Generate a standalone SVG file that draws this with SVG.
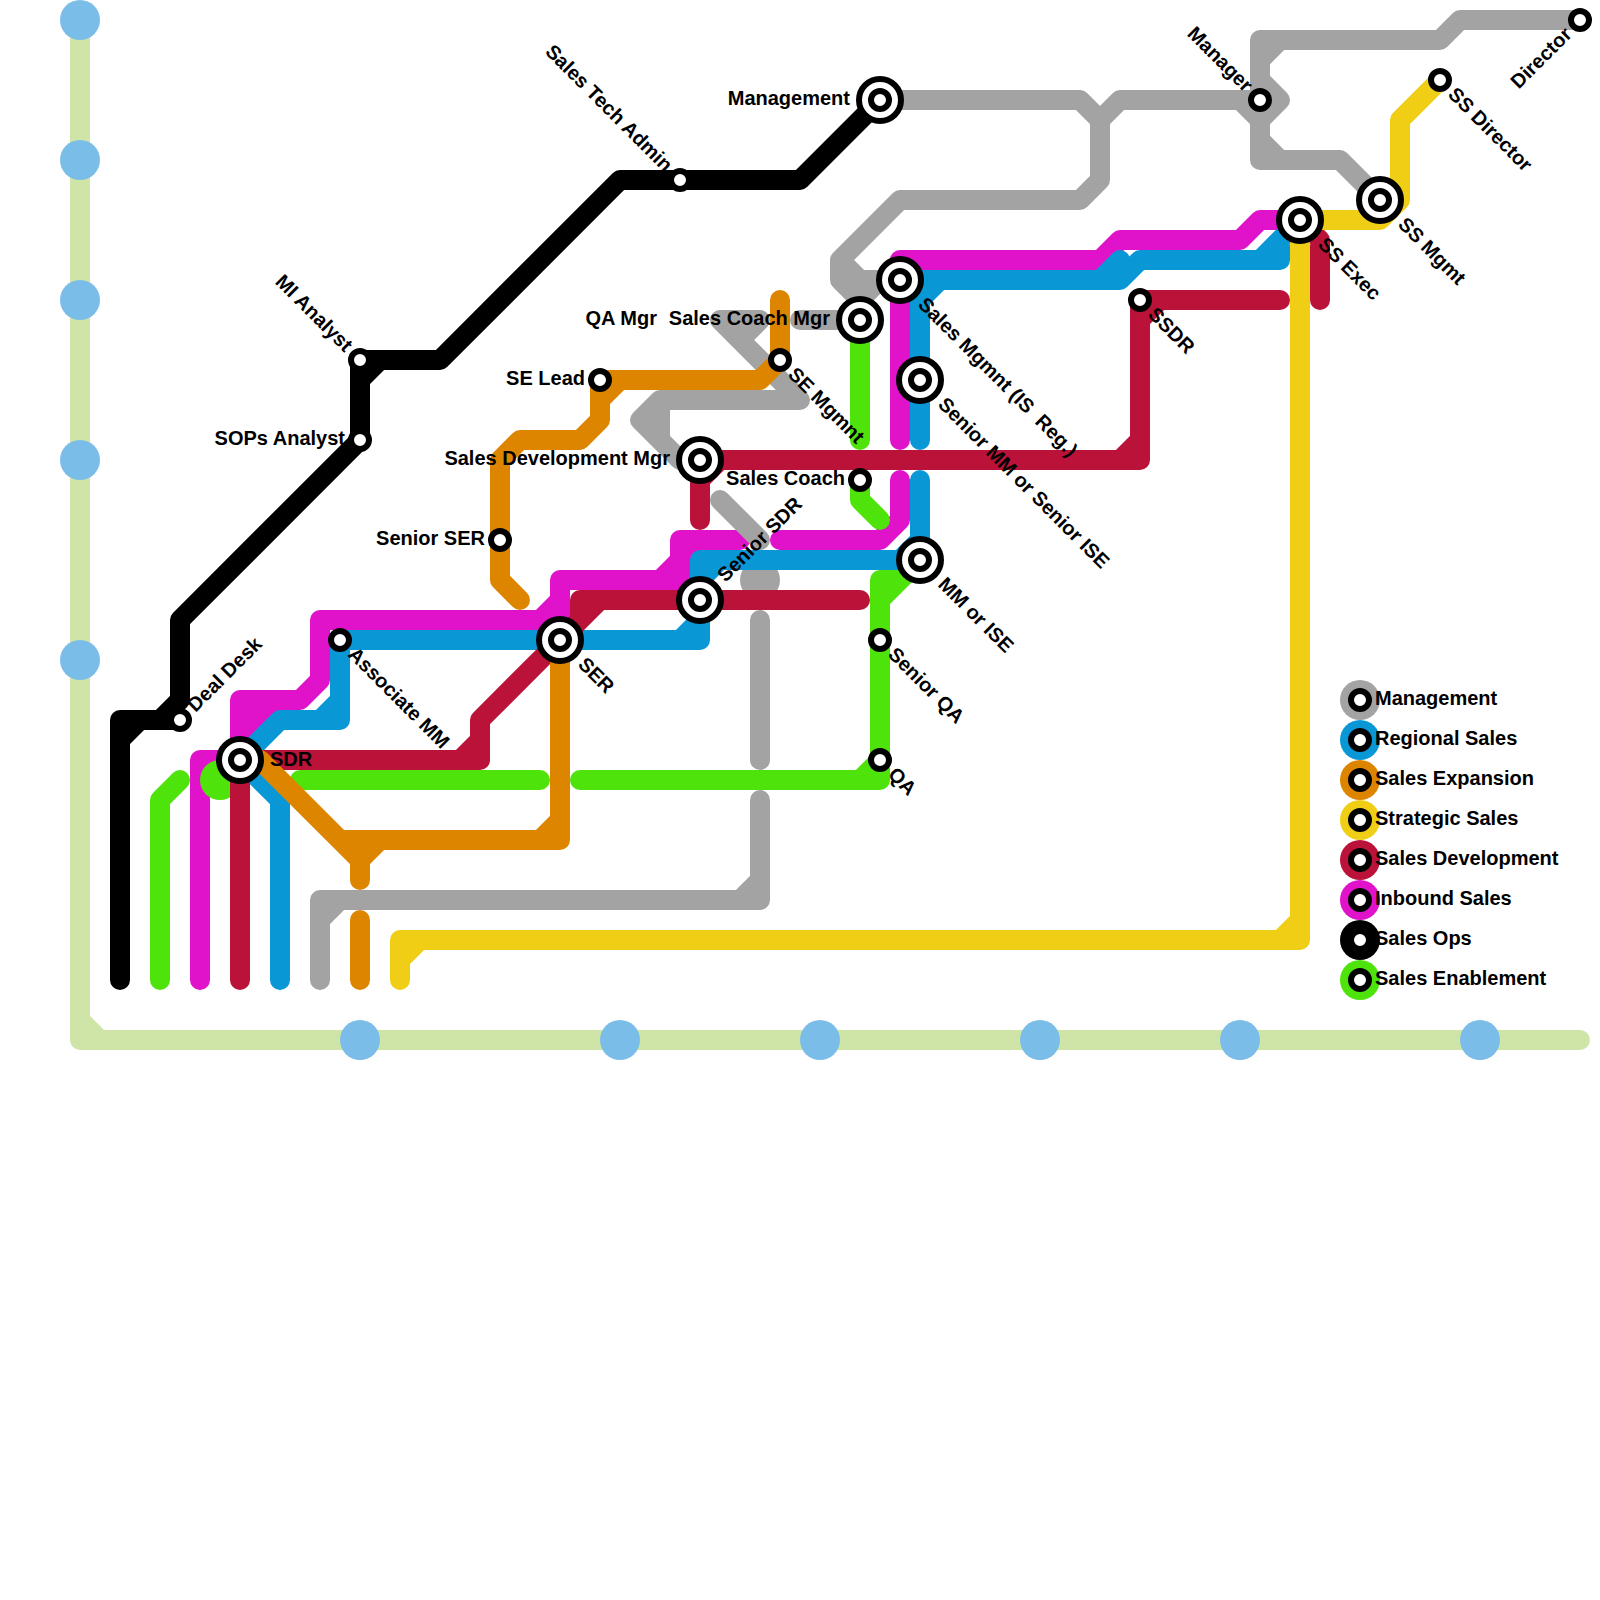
<svg xmlns="http://www.w3.org/2000/svg" width="1600" height="1600" viewBox="0 0 1600 1600">
<style>
.l{fill:none;stroke-width:20;stroke-linecap:round;stroke-linejoin:round}
.river{stroke:#cfe5a8}.mag{stroke:#e013ca}.grn{stroke:#4fe30c}.gry{stroke:#a3a3a3}.blu{stroke:#0a97d6}.red{stroke:#bb1239}.blk{stroke:#000}.org{stroke:#de8500}.yel{stroke:#f0ce15}
.dot{fill:#7abde8}
text{font-family:"Liberation Sans",Arial,sans-serif;font-size:20px;font-weight:700;fill:#000;white-space:pre}
.e{text-anchor:end}
</style>
<defs>
<g id="big"><circle r="21" fill="#fff" stroke="#000" stroke-width="6"/><circle r="9" fill="#fff" stroke="#000" stroke-width="6"/></g>
<circle id="small" r="9" fill="#fff" stroke="#000" stroke-width="6"/>
</defs>
<g id="connectors">
<path class="l river" d="M80,20V1040H1580M80,1020L100,1040"/>
<g id="river-markers">
<circle class="dot" cx="80" cy="20" r="20"/><circle class="dot" cx="80" cy="160" r="20"/><circle class="dot" cx="80" cy="300" r="20"/><circle class="dot" cx="80" cy="460" r="20"/><circle class="dot" cx="80" cy="660" r="20"/>
<circle class="dot" cx="360" cy="1040" r="20"/><circle class="dot" cx="620" cy="1040" r="20"/><circle class="dot" cx="820" cy="1040" r="20"/><circle class="dot" cx="1040" cy="1040" r="20"/><circle class="dot" cx="1240" cy="1040" r="20"/><circle class="dot" cx="1480" cy="1040" r="20"/>
</g>
<path class="l mag" d="M200,980V760H240V700H300L320,680V620H540L560,600V580H660L680,560V540H740M240,720H300M240,740L280,700M560,620V600M660,580H700M680,560H700M780,540H880L900,520V480M900,440V260H1100L1120,240H1240L1260,220H1300"/>
<circle cx="220" cy="780" r="20" fill="#4fe30c"/>
<path class="l grn" d="M160,980V800L180,780M300,780H540M580,780H880V580H900M860,780L880,760M880,600L920,560M860,320V440M860,480V500L880,520"/>
<circle cx="760" cy="580" r="20" fill="#a3a3a3"/>
<path class="l gry" d="M1580,20H1460L1440,40H1260V160H1340L1380,200M1260,60L1280,40M1260,80L1280,100L1260,120M1260,140L1280,160M880,100H1080L1100,120V180L1080,200H900L840,260V280L860,300V320M1100,120L1120,100H1260M1240,100L1260,120M840,260L860,280H900M840,280H880M860,300L880,280M800,320H860M720,320H760L740,340M720,320L800,400M800,400H660L640,420L680,460H700M660,400V440M720,500L760,540M760,620V760M760,800V900H320V980M740,900L760,880M320,920L340,900"/>
<path class="l blu" d="M280,980V800L240,760L280,720H340V640H700V560H920V480M320,720L340,700M680,640L700,620M700,580L720,560M900,560L920,540M920,440V280H1120L1140,260H1280V240L1300,220M900,280H920M920,300L940,280M1100,280L1120,260M1260,260L1300,220"/>
<path class="l red" d="M240,980V760H480V720L560,640L580,620V600H860M460,760L480,740M580,620L600,600M700,520V460H1140V300H1280M700,480L720,460M1120,460L1140,440M1140,320L1160,300M1300,220L1320,240V300"/>
<path class="l blk" d="M120,980V720H180M120,740L140,720M160,720L180,700V620L360,440V360H440L620,180H800L880,100M360,380L380,360"/>
<path class="l org" d="M360,980V920M240,760H260L360,860V880M340,840H560V640M540,840L560,820M360,860L380,840M520,600L500,580V460L520,440H580L600,420V380H760L780,360V300M600,400L620,380"/>
<path class="l yel" d="M400,980V940H1300V220H1380L1400,200V120L1440,80M400,960L420,940M1280,940L1300,920"/>
</g>
<g id="sdr"><use href="#big" x="240" y="760"/><text x="270" y="766">SDR</text></g>
<g id="associate-mm"><use href="#small" x="340" y="640"/><text transform="translate(340,640) rotate(45)" x="16" y="6">Associate MM</text></g>
<g id="deal-desk"><use href="#small" x="180" y="720"/><text transform="translate(180,720) rotate(-45)" x="16" y="6">Deal Desk</text></g>
<g id="sops-analyst"><use href="#small" x="360" y="440"/><text class="e" x="345" y="445">SOPs Analyst</text></g>
<g id="mi-analyst"><use href="#small" x="360" y="360"/><text class="e" transform="translate(360,360) rotate(45)" x="-16" y="6">MI Analyst</text></g>
<g id="sales-tech-admin"><use href="#small" x="680" y="180"/><text class="e" transform="translate(680,180) rotate(45)" x="-16" y="6">Sales Tech Admin</text></g>
<g id="management"><use href="#big" x="880" y="100"/><text class="e" x="850" y="105">Management</text></g>
<g id="senior-ser"><use href="#small" x="500" y="540"/><text class="e" x="485" y="545">Senior SER</text></g>
<g id="se-lead"><use href="#small" x="600" y="380"/><text class="e" x="585" y="385">SE Lead</text></g>
<g id="qa-mgr"><text class="e" x="657" y="325">QA Mgr</text></g>
<g id="se-mgmt"><use href="#small" x="780" y="360"/><text transform="translate(780,360) rotate(45)" x="16" y="6">SE Mgmnt</text></g>
<g id="sales-coach-mgr"><use href="#big" x="860" y="320"/><text class="e" x="830" y="325">Sales Coach Mgr</text></g>
<g id="sales-coach"><use href="#small" x="860" y="480"/><text class="e" x="845" y="485">Sales Coach</text></g>
<g id="sales-development-mgr"><use href="#big" x="700" y="460"/><text class="e" x="670" y="465">Sales Development Mgr</text></g>
<g id="senior-sdr"><use href="#big" x="700" y="600"/><text transform="translate(700,600) rotate(-45)" x="30" y="6">Senior SDR</text></g>
<g id="ser"><use href="#big" x="560" y="640"/><text transform="translate(560,640) rotate(45)" x="30" y="6">SER</text></g>
<g id="sales-mgmt"><use href="#big" x="900" y="280"/><text transform="translate(900,280) rotate(45)" x="30" y="6">Sales Mgmnt (IS  Reg.)</text></g>
<g id="senior-mm"><use href="#big" x="920" y="380"/><text transform="translate(920,380) rotate(45)" x="30" y="6">Senior MM or Senior ISE</text></g>
<g id="mm-ise"><use href="#big" x="920" y="560"/><text transform="translate(920,560) rotate(45)" x="30" y="6">MM or ISE</text></g>
<g id="senior-qa"><use href="#small" x="880" y="640"/><text transform="translate(880,640) rotate(45)" x="16" y="6">Senior QA</text></g>
<g id="qa"><use href="#small" x="880" y="760"/><text transform="translate(880,760) rotate(45)" x="16" y="6">QA</text></g>
<g id="ssdr"><use href="#small" x="1140" y="300"/><text transform="translate(1140,300) rotate(45)" x="16" y="6">SSDR</text></g>
<g id="manager"><use href="#small" x="1260" y="100"/><text class="e" transform="translate(1260,100) rotate(45)" x="-16" y="6">Manager</text></g>
<g id="ss-exec"><use href="#big" x="1300" y="220"/><text transform="translate(1300,220) rotate(45)" x="30" y="6">SS Exec</text></g>
<g id="ss-mgmt"><use href="#big" x="1380" y="200"/><text transform="translate(1380,200) rotate(45)" x="30" y="6">SS Mgmt</text></g>
<g id="ss-director"><use href="#small" x="1440" y="80"/><text transform="translate(1440,80) rotate(45)" x="16" y="6">SS Director</text></g>
<g id="director"><use href="#small" x="1580" y="20"/><text class="e" transform="translate(1580,20) rotate(-45)" x="-16" y="6">Director</text></g>
<g id="legend">
<g id="legend-management"><circle cx="1360" cy="700" r="20" fill="#a3a3a3"/><use href="#small" x="1360" y="700"/><text x="1375" y="705">Management</text></g>
<g id="legend-regional"><circle cx="1360" cy="740" r="20" fill="#0a97d6"/><use href="#small" x="1360" y="740"/><text x="1375" y="745">Regional Sales</text></g>
<g id="legend-expansion"><circle cx="1360" cy="780" r="20" fill="#de8500"/><use href="#small" x="1360" y="780"/><text x="1375" y="785">Sales Expansion</text></g>
<g id="legend-strategic"><circle cx="1360" cy="820" r="20" fill="#f0ce15"/><use href="#small" x="1360" y="820"/><text x="1375" y="825">Strategic Sales</text></g>
<g id="legend-development"><circle cx="1360" cy="860" r="20" fill="#bb1239"/><use href="#small" x="1360" y="860"/><text x="1375" y="865">Sales Development</text></g>
<g id="legend-inbound"><circle cx="1360" cy="900" r="20" fill="#e013ca"/><use href="#small" x="1360" y="900"/><text x="1375" y="905">Inbound Sales</text></g>
<g id="legend-ops"><circle cx="1360" cy="940" r="20" fill="#000"/><use href="#small" x="1360" y="940"/><text x="1375" y="945">Sales Ops</text></g>
<g id="legend-enablement"><circle cx="1360" cy="980" r="20" fill="#4fe30c"/><use href="#small" x="1360" y="980"/><text x="1375" y="985">Sales Enablement</text></g>
</g>
</svg>
